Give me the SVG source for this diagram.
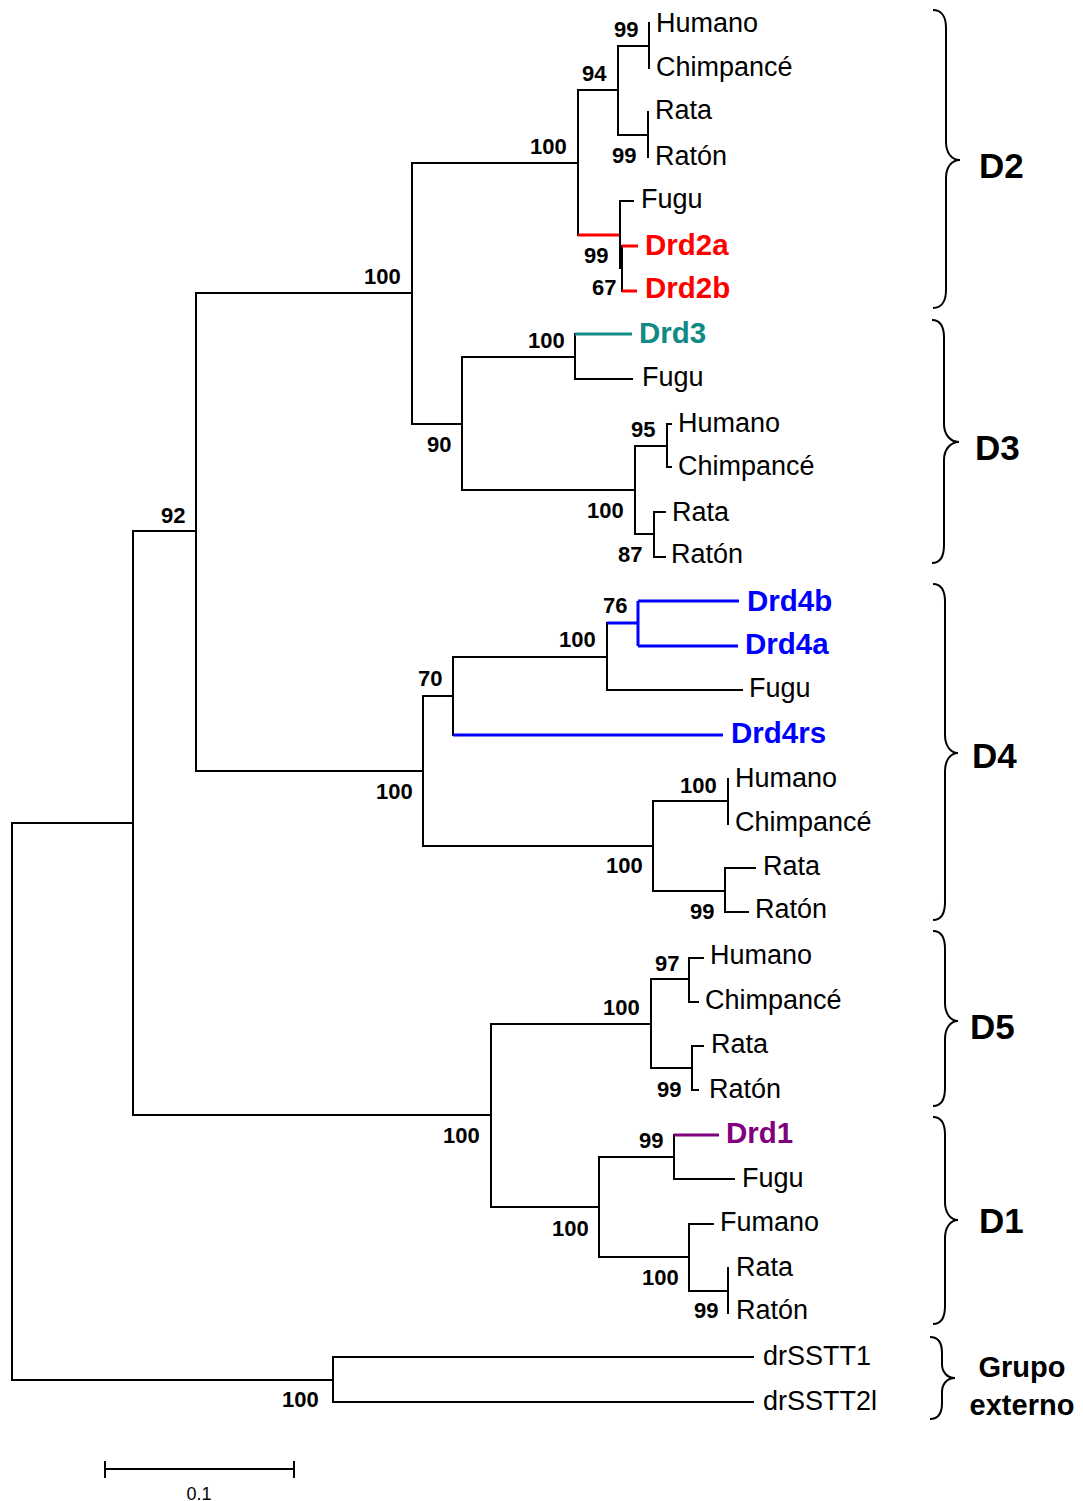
<svg xmlns="http://www.w3.org/2000/svg" width="1083" height="1501" viewBox="0 0 1083 1501">
<style>
.br{fill:none;stroke:#000;stroke-width:2;stroke-linecap:square}
.red{fill:none;stroke:#ff0000;stroke-width:3}
.teal{fill:none;stroke:#128a86;stroke-width:3}
.blue{fill:none;stroke:#0000ff;stroke-width:3}
.purp{fill:none;stroke:#800080;stroke-width:3}
.brace{fill:none;stroke:#000;stroke-width:2}
.leaf{font-family:"Liberation Sans",Arial,sans-serif;font-size:27px;fill:#000}
.gene{font-family:"Liberation Sans",Arial,sans-serif;font-size:29.5px;font-weight:bold}
.bs{font-family:"Liberation Sans",Arial,sans-serif;font-size:22px;font-weight:bold;fill:#000}
.clade{font-family:"Liberation Sans",Arial,sans-serif;font-size:35px;font-weight:bold;fill:#000}
.grp{font-family:"Liberation Sans",Arial,sans-serif;font-size:29px;font-weight:bold;fill:#000;text-anchor:middle}
.scale{font-family:"Liberation Sans",Arial,sans-serif;font-size:18px;fill:#000;text-anchor:middle}
</style>
<rect width="1083" height="1501" fill="#fff"/>
<g id="connectors">
<path class="br" d="M12,823V1380M12,823H133M12,1380H333"/>
<path class="br" d="M133,531V1115M133,531H196M133,1115H491"/>
<path class="br" d="M196,293V771M196,293H412M196,771H423"/>
<path class="br" d="M412,163V424M412,163H578M412,424H462"/>
<path class="br" d="M578,90V235M578,90H618"/>
<path class="red" d="M578,235H620"/>
<path class="br" d="M618,46V135M618,46H649M618,135H648"/>
<path class="br" d="M649,23V68M648,112V157"/>
<path class="br" d="M620,201V268M620,201H633M622,246V291"/>
<path class="red" d="M622,246H638M622,291H637"/>
<path class="br" d="M462,357V490M462,357H575M462,490H635"/>
<path class="br" d="M575,334V379M575,379H632"/>
<path class="teal" d="M575,334H632"/>
<path class="br" d="M635,446V534M635,446H667M635,534H654"/>
<path class="br" d="M667,424V467M667,424H671M667,467H671"/>
<path class="br" d="M654,512V557M654,512H665M654,557H665"/>
<path class="br" d="M423,696V846M423,696H453M423,846H653"/>
<path class="br" d="M453,657V735M453,657H607"/>
<path class="blue" d="M453,735H723"/>
<path class="br" d="M607,623V690M607,690H742"/>
<path class="blue" d="M607,623H638M638,601V646M638,601H739M638,646H738"/>
<path class="br" d="M653,801V891M653,801H728M653,891H725"/>
<path class="br" d="M728,779V824"/>
<path class="br" d="M725,868V912M725,868H755M725,912H748"/>
<path class="br" d="M491,1024V1207M491,1024H651M491,1207H599"/>
<path class="br" d="M651,979V1068M651,979H689M651,1068H692"/>
<path class="br" d="M689,958V1002M689,958H703M689,1002H698"/>
<path class="br" d="M692,1046V1090M692,1046H703M692,1090H698"/>
<path class="br" d="M599,1157V1257M599,1157H674M599,1257H689"/>
<path class="br" d="M674,1135V1179M674,1179H734"/>
<path class="purp" d="M674,1135H719"/>
<path class="br" d="M689,1224V1291M689,1224H713M689,1291H728"/>
<path class="br" d="M728,1268V1313"/>
<path class="br" d="M333,1357V1402M333,1357H753M333,1402H753"/>
</g>
<g id="leaves">
<g id="d2-humano"><text class="leaf" x="656" y="32">Humano</text></g>
<g id="d2-chimp"><text class="leaf" x="656" y="76">Chimpancé</text></g>
<g id="d2-rata"><text class="leaf" x="655" y="119">Rata</text></g>
<g id="d2-raton"><text class="leaf" x="655" y="165">Ratón</text></g>
<g id="d2-fugu"><text class="leaf" x="641" y="208">Fugu</text></g>
<g id="drd2a"><text class="gene" x="645" y="255" fill="#ff0000">Drd2a</text></g>
<g id="drd2b"><text class="gene" x="645" y="298" fill="#ff0000">Drd2b</text></g>
<g id="drd3"><text class="gene" x="639" y="343" fill="#128a86">Drd3</text></g>
<g id="d3-fugu"><text class="leaf" x="642" y="386">Fugu</text></g>
<g id="d3-humano"><text class="leaf" x="678" y="432">Humano</text></g>
<g id="d3-chimp"><text class="leaf" x="678" y="475">Chimpancé</text></g>
<g id="d3-rata"><text class="leaf" x="672" y="521">Rata</text></g>
<g id="d3-raton"><text class="leaf" x="671" y="563">Ratón</text></g>
<g id="drd4b"><text class="gene" x="747" y="611" fill="#0000ff">Drd4b</text></g>
<g id="drd4a"><text class="gene" x="745" y="654" fill="#0000ff">Drd4a</text></g>
<g id="d4-fugu"><text class="leaf" x="749" y="697">Fugu</text></g>
<g id="drd4rs"><text class="gene" x="731" y="743" fill="#0000ff">Drd4rs</text></g>
<g id="d4-humano"><text class="leaf" x="735" y="787">Humano</text></g>
<g id="d4-chimp"><text class="leaf" x="735" y="831">Chimpancé</text></g>
<g id="d4-rata"><text class="leaf" x="763" y="875">Rata</text></g>
<g id="d4-raton"><text class="leaf" x="755" y="918">Ratón</text></g>
<g id="d5-humano"><text class="leaf" x="710" y="964">Humano</text></g>
<g id="d5-chimp"><text class="leaf" x="705" y="1009">Chimpancé</text></g>
<g id="d5-rata"><text class="leaf" x="711" y="1053">Rata</text></g>
<g id="d5-raton"><text class="leaf" x="709" y="1098">Ratón</text></g>
<g id="drd1"><text class="gene" x="726" y="1143" fill="#800080">Drd1</text></g>
<g id="d1-fugu"><text class="leaf" x="742" y="1187">Fugu</text></g>
<g id="d1-fumano"><text class="leaf" x="720" y="1231">Fumano</text></g>
<g id="d1-rata"><text class="leaf" x="736" y="1276">Rata</text></g>
<g id="d1-raton"><text class="leaf" x="736" y="1319">Ratón</text></g>
<g id="drsstt1"><text class="leaf" x="763" y="1365">drSSTT1</text></g>
<g id="drsstt2l"><text class="leaf" x="763" y="1410">drSSTT2l</text></g>
</g>
<g id="bootstrap">
<text class="bs" x="614" y="37">99</text>
<text class="bs" x="582" y="81">94</text>
<text class="bs" x="530" y="154">100</text>
<text class="bs" x="612" y="163">99</text>
<text class="bs" x="584" y="263">99</text>
<text class="bs" x="592" y="295">67</text>
<text class="bs" x="364" y="284">100</text>
<text class="bs" x="528" y="348">100</text>
<text class="bs" x="427" y="452">90</text>
<text class="bs" x="631" y="437">95</text>
<text class="bs" x="587" y="518">100</text>
<text class="bs" x="618" y="562">87</text>
<text class="bs" x="161" y="523">92</text>
<text class="bs" x="603" y="613">76</text>
<text class="bs" x="559" y="647">100</text>
<text class="bs" x="418" y="686">70</text>
<text class="bs" x="376" y="799">100</text>
<text class="bs" x="680" y="793">100</text>
<text class="bs" x="606" y="873">100</text>
<text class="bs" x="690" y="919">99</text>
<text class="bs" x="655" y="971">97</text>
<text class="bs" x="603" y="1015">100</text>
<text class="bs" x="657" y="1097">99</text>
<text class="bs" x="443" y="1143">100</text>
<text class="bs" x="639" y="1148">99</text>
<text class="bs" x="552" y="1236">100</text>
<text class="bs" x="642" y="1285">100</text>
<text class="bs" x="694" y="1318">99</text>
<text class="bs" x="282" y="1407">100</text>
</g>
<g id="clade-d2"><path class="brace" d="M933,10C941,10 946,16 946,28V142C946,152 951,160 960,160C951,160 946,168 946,178V290C946,302 941,308 933,308"/><text class="clade" x="979" y="178">D2</text></g>
<g id="clade-d3"><path class="brace" d="M932,320C940,320 944,326 944,338V424C944,434 950,442 959,442C950,442 944,450 944,460V545C944,557 940,563 932,563"/><text class="clade" x="975" y="460">D3</text></g>
<g id="clade-d4"><path class="brace" d="M933,584C941,584 945,590 945,602V735C945,745 950,753 958,753C950,753 945,761 945,771V902C945,914 941,920 933,920"/><text class="clade" x="972" y="768">D4</text></g>
<g id="clade-d5"><path class="brace" d="M933,931C941,931 945,937 945,949V1003C945,1013 950,1021 958,1021C950,1021 945,1029 945,1039V1088C945,1100 941,1106 933,1106"/><text class="clade" x="970" y="1039">D5</text></g>
<g id="clade-d1"><path class="brace" d="M933,1117C941,1117 945,1123 945,1135V1202C945,1212 950,1220 958,1220C950,1220 945,1228 945,1238V1306C945,1318 941,1324 933,1324"/><text class="clade" x="979" y="1233">D1</text></g>
<g id="clade-outgroup"><path class="brace" d="M930,1337C938,1337 942,1343 942,1353V1364C942,1372 947,1378 955,1378C947,1378 942,1384 942,1392V1403C942,1413 938,1419 930,1419"/><text class="grp" x="1022" y="1377">Grupo</text><text class="grp" x="1022" y="1415">externo</text></g>
<g id="scale-bar"><path class="br" d="M105,1469H294M105,1462V1477M294,1462V1477"/><text class="scale" x="199" y="1500">0.1</text></g>
</svg>
